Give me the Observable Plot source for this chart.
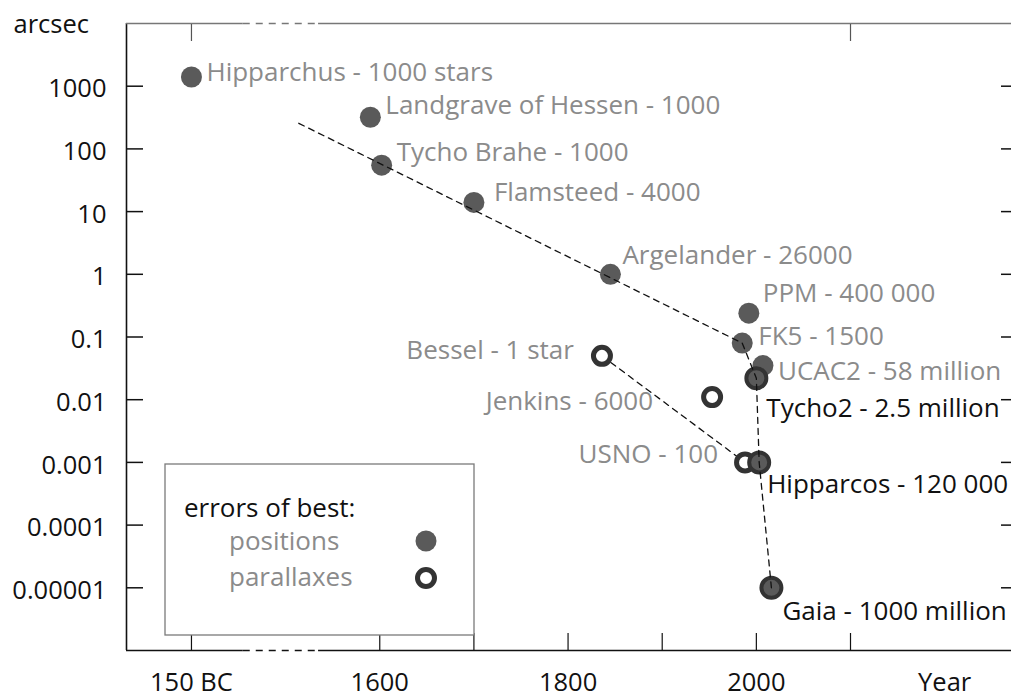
<!DOCTYPE html>
<html>
<head>
<meta charset="utf-8">
<script src="https://cdn.jsdelivr.net/npm/d3@7"></script>
<script src="https://cdn.jsdelivr.net/npm/@observablehq/plot@0.6"></script>
<style>
  html, body { margin: 0; padding: 0; background: #fff; overflow: hidden; }
  #chart { position: relative; width: 1011px; height: 697px; }
  #chart svg { display: block; }
</style>
</head>
<body>
<div id="chart"></div>
<script>
// Astrometric catalogues: epoch (year) and best accuracy reached, in arcsec
const catalogues = ["Hipparchus", "Landgrave of Hessen", "Tycho Brahe", "Flamsteed", "Argelander", "PPM", "FK5", "UCAC2", "Tycho2", "Bessel", "Jenkins", "USNO", "Hipparcos", "Gaia"];
const catalogueLabels = ["Hipparchus - 1000 stars", "Landgrave of Hessen - 1000", "Tycho Brahe - 1000", "Flamsteed - 4000", "Argelander - 26000", "PPM - 400 000", "FK5 - 1500", "UCAC2 - 58 million", "Tycho2 - 2.5 million", "Bessel - 1 star", "Jenkins - 6000", "USNO - 100", "Hipparcos - 120 000", "Gaia - 1000 million"];
const years = [-150, 1590, 1602, 1700, 1845, 1992, 1985, 2007, 2000, 1836, 1953, 1988, 2003, 2016];
const errors = [1400, 320, 55, 14, 1, 0.24, 0.08, 0.035, 0.022, 0.05, 0.011, 0.001, 0.001, 0.00001];
// what was measured: positions, parallaxes, or both
const kinds = ["position", "position", "position", "position", "position", "position", "position", "position", "both", "parallax", "parallax", "parallax", "both", "both"];
// space missions are named in black, ground catalogues in grey
const missions = ["Tycho2", "Hipparcos", "Gaia"];

// dashed trends of the best errors
const positionTrendYears = [1514, 1985, 2000, 2003, 2016];
const positionTrendErrors = [256, 0.08, 0.022, 0.001, 0.00001];
const parallaxTrendYears = [1836, 1988];
const parallaxTrendErrors = [0.05, 0.001];

// axes
const yTicks = [1000, 100, 10, 1, 0.1, 0.01, 0.001, 0.0001, 0.00001];
const yTickLabels = ["1000", "100", "10", "1", "0.1", "0.01", "0.001", "0.0001", "0.00001"];
const xTickYears = [1400, 1600, 1700, 1800, 1900, 2000, 2100];
const xLabelYears = [1400, 1600, 1800, 2000, 2200];
const xTickLabels = ["150 BC", "1600", "1800", "2000", "Year"];
const topTickYears = [1400, 2100];

// the time axis is broken: antiquity is drawn at the 1400 slot
const axisYear = (y) => y < 0 ? 1400 : y;
const xDomain = [1331, 2271];
const yDomain = [1e-6, 1e4];
const breakSpan = [1455, 1535];

const rows = catalogues.map((name, i) => ({
  name, label: catalogueLabels[i], year: axisYear(years[i]), error: errors[i], kind: kinds[i]
}));
const positionTrend = positionTrendYears.map((y, i) => ({year: y, error: positionTrendErrors[i]}));
const parallaxTrend = parallaxTrendYears.map((y, i) => ({year: y, error: parallaxTrendErrors[i]}));

// label placement around each point
const placement = {
  "Hipparchus":          {dx: 15,  dy: -4,  anchor: "start"},
  "Landgrave of Hessen": {dx: 15,  dy: -12, anchor: "start"},
  "Tycho Brahe":         {dx: 15,  dy: -13, anchor: "start"},
  "Flamsteed":           {dx: 20,  dy: -10, anchor: "start"},
  "Argelander":          {dx: 12,  dy: -19, anchor: "start"},
  "PPM":                 {dx: 14,  dy: -19, anchor: "start"},
  "FK5":                 {dx: 16,  dy: -6,  anchor: "start"},
  "UCAC2":               {dx: 15,  dy: 6,   anchor: "start"},
  "Tycho2":              {dx: 10,  dy: 30,  anchor: "start"},
  "Hipparcos":           {dx: 8,   dy: 22,  anchor: "start"},
  "Gaia":                {dx: 11,  dy: 24,  anchor: "start"},
  "Bessel":              {dx: -28, dy: -5,  anchor: "end"},
  "Jenkins":             {dx: -59, dy: 5,   anchor: "end"},
  "USNO":                {dx: -27, dy: -8,  anchor: "end"}
};

const FONT = "'Open Sans', sans-serif";
const GREY = "#8b8b8b";
const DOT = "#5a5a5a";
const RING = "#333";

const labelMarks = rows.map(r => {
  const p = placement[r.name];
  return Plot.text([r], {
    x: "year", y: "error", text: "label",
    dx: p.dx, dy: p.dy, textAnchor: p.anchor,
    fill: missions.includes(r.name) ? "#111" : GREY,
    fontSize: 26
  });
});

const axisRule = (y, stroke) => [
  Plot.ruleY([y], {x1: xDomain[0], x2: breakSpan[0], stroke, strokeWidth: 1.5}),
  Plot.ruleY([y], {x1: breakSpan[0], x2: breakSpan[1], stroke, strokeWidth: 1.5, strokeDasharray: "7,6"}),
  Plot.ruleY([y], {x1: breakSpan[1], x2: xDomain[1], stroke, strokeWidth: 1.5})
];

const chart = Plot.plot({
  width: 1011,
  height: 697,
  marginLeft: 126,
  marginRight: 0,
  marginTop: 23,
  marginBottom: 47,
  style: {fontFamily: FONT, fontSize: "25.5px", color: "#111", background: "#fff"},
  x: {domain: xDomain, label: null, axis: null},
  y: {type: "log", domain: yDomain, label: null, axis: null},
  marks: [
    // frame: left axis, broken bottom and top edges
    Plot.ruleX([xDomain[0]], {stroke: "#111", strokeWidth: 1.6}),
    ...axisRule(yDomain[0], "#111"),
    ...axisRule(yDomain[1], "#777"),

    // inward ticks
    Plot.axisY(yTicks, {anchor: "left", tickSize: -17, fill: "none", stroke: "#111", strokeWidth: 1.5, label: null}),
    Plot.axisY(yTicks, {anchor: "right", tickSize: -11, fill: "none", stroke: "#111", strokeWidth: 1.5, label: null}),
    Plot.axisX(xTickYears, {anchor: "bottom", tickSize: -17, fill: "none", stroke: "#111", strokeWidth: 1.2, label: null}),
    Plot.axisX(topTickYears, {anchor: "top", tickSize: -17, fill: "none", stroke: "#555", strokeWidth: 1.2, label: null}),

    // tick labels
    Plot.axisY(yTicks, {anchor: "left", tickSize: 0, tickPadding: 20, dy: 3, fontSize: 25.5,
      tickFormat: d => yTickLabels[yTicks.indexOf(d)], label: null}),
    Plot.axisX(xLabelYears, {anchor: "bottom", tickSize: 0, tickPadding: 22, fontSize: 25.5,
      tickFormat: d => xTickLabels[xLabelYears.indexOf(d)], label: null}),
    Plot.text(["arcsec"], {frameAnchor: "top-left", text: d => d, textAnchor: "start", lineAnchor: "bottom",
      dx: -113, dy: 9, fontSize: 25.5, fill: "#111"}),

    // parallax trend (behind the rings)
    Plot.line(parallaxTrend, {x: "year", y: "error", stroke: "#111", strokeWidth: 1.3, strokeDasharray: "6,5"}),

    // catalogue points
    Plot.dot(rows.filter(d => d.kind === "position"), {x: "year", y: "error", r: 10.5, fill: DOT}),
    Plot.dot(rows.filter(d => d.kind === "parallax"), {x: "year", y: "error", r: 8.5, fill: "#fff", stroke: RING, strokeWidth: 5}),
    Plot.dot(rows.filter(d => d.kind === "both"), {x: "year", y: "error", r: 10, fill: DOT, stroke: RING, strokeWidth: 4}),

    // positions trend on top
    Plot.line(positionTrend, {x: "year", y: "error", stroke: "#111", strokeWidth: 1.3, strokeDasharray: "6,5"}),

    ...labelMarks
  ]
});

document.getElementById("chart").appendChild(chart);

// legend box inside the plot area
const svg = d3.select(chart);
const lg = svg.append("g").attr("font-family", FONT).attr("font-size", 26).attr("text-anchor", "start");
lg.append("rect").attr("x", 165).attr("y", 464).attr("width", 309).attr("height", 171)
  .attr("fill", "#fff").attr("stroke", "#7a7a7a").attr("stroke-width", 1.3);
lg.append("text").attr("x", 184).attr("y", 517).attr("fill", "#111").text("errors of best:");
lg.append("text").attr("x", 229).attr("y", 550).attr("fill", GREY).text("positions");
lg.append("text").attr("x", 229).attr("y", 586).attr("fill", GREY).text("parallaxes");
lg.append("circle").attr("cx", 426).attr("cy", 541).attr("r", 10.5).attr("fill", DOT);
lg.append("circle").attr("cx", 426).attr("cy", 578).attr("r", 8.5).attr("fill", "#fff")
  .attr("stroke", RING).attr("stroke-width", 5);
</script>
</body>
</html>
